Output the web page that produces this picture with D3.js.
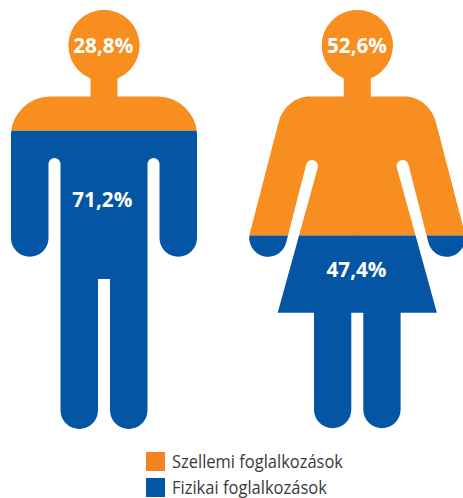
<!DOCTYPE html>
<html><head><meta charset="utf-8">
<script src="https://cdn.jsdelivr.net/npm/d3@7"></script>
<style>html,body{margin:0;padding:0;background:#fff}svg{display:block}</style>
</head><body><div id="c"></div>
<script>
const figures = ["man", "woman"];
const whiteCollar = [28.8, 52.6];
const manualLabour = [71.2, 47.4];
const fillLevels = [71.2, 46.2]; // blue height
const valueLabels = ["28,8%", "52,6%", "71,2%", "47,4%"];
const legendLabels = ["Szellemi foglalkozások", "Fizikai foglalkozások"];
const colours = ["#F78E1F", "#0455A4"];
const legendColours = ["#F58220", "#0455A4"];

const W = 463, H = 498;
const svg = d3.select("#c").append("svg").attr("width", W).attr("height", H);
const y = d3.scaleLinear().domain([0, 100]).range([429, 10]);
const PI = Math.PI;

function head(p, c) {
  p.moveTo(c + 35.5, 45.5);
  p.arc(c, 45.5, 35.5, 0, 2 * PI, true);
  p.closePath();
  p.moveTo(c - 13.5, 70);
  p.lineTo(c - 13.5, 100); p.lineTo(c + 0.6, 100); p.lineTo(c + 0.6, 70);
  p.closePath();
}
function manHalf(c) {
  const p = d3.path();
  head(p, c);
  p.moveTo(c + 0.6, 96.5);
  p.lineTo(50, 96.5);
  p.arc(50, 135.5, 39, -PI / 2, -PI, true);
  p.lineTo(11, 238);
  p.arc(29.75, 238, 18.75, PI, 0, true);
  p.lineTo(48.5, 164);
  p.arc(54.5, 164, 6, PI, 2 * PI, false);
  p.lineTo(60.5, 410.25);
  p.arc(79.25, 410.25, 18.75, PI, 0, true);
  p.lineTo(98, 279);
  p.lineTo(c + 0.6, 279);
  p.closePath();
  return p.toString();
}
function womanHalf(c) {
  const p = d3.path();
  head(p, c);
  const a = Math.atan2(0.25, 0.968);
  p.moveTo(c + 0.6, 96.5);
  p.lineTo(310, 96.5);
  p.bezierCurveTo(295, 96.5, 283, 107, 278.7, 122);
  p.lineTo(249.85, 233.3);
  p.arc(268, 238, 18.75, PI + a, a, true);
  p.lineTo(306.2, 164.5);
  p.arc(312, 166, 6, PI + a, 2 * PI + a, false);
  p.lineTo(277.7, 312.7);
  p.lineTo(314, 312.7);
  p.lineTo(314, 409.6);
  p.arc(332.65, 409.6, 18.65, PI, 0, true);
  p.lineTo(351.3, 312.7);
  p.lineTo(c + 0.6, 312.7);
  p.closePath();
  return p.toString();
}

const shapes = [
  { name: figures[0], c: 104, d: manHalf(104) },
  { name: figures[1], c: 357.3, d: womanHalf(357.3) }
];

const defs = svg.append("defs");
shapes.forEach((s, i) => {
  const split = y(fillLevels[i]);
  defs.append("clipPath").attr("id", "top" + i).append("rect")
    .attr("x", 0).attr("y", 0).attr("width", W).attr("height", split);
  defs.append("clipPath").attr("id", "bot" + i).append("rect")
    .attr("x", 0).attr("y", split).attr("width", W).attr("height", H - split);
  [["top", colours[0]], ["bot", colours[1]]].forEach(([k, col]) => {
    const g = svg.append("g").attr("class", s.name).attr("clip-path", `url(#${k}${i})`).attr("fill", col);
    g.append("path").attr("d", s.d);
    g.append("path").attr("d", s.d).attr("transform", `translate(${2 * s.c},0) scale(-1,1)`);
  });
});

const labelPos = [[103.3, 53], [357, 53], [102.3, 206.5], [356.5, 276.5]];
svg.selectAll("text.v").data(valueLabels).join("text").attr("class", "v")
  .attr("x", (d, i) => labelPos[i][0]).attr("y", (d, i) => labelPos[i][1])
  .attr("text-anchor", "middle").attr("fill", "#fff")
  .attr("font-family", "'Open Sans', sans-serif").attr("font-weight", 700).attr("font-size", 22)
  .attr("textLength", 60).attr("lengthAdjust", "spacingAndGlyphs")
  .text(d => d);

const legendY = [452, 478], legendBase = [468, 493.5], legendW = [171, 155];
legendLabels.forEach((t, i) => {
  svg.append("rect").attr("x", 146).attr("y", legendY[i]).attr("width", 19).attr("height", 19).attr("fill", legendColours[i]);
  svg.append("text").attr("x", 172).attr("y", legendBase[i])
    .attr("font-family", "'Open Sans', sans-serif").attr("font-size", 18.5).attr("fill", "#3a3a3c")
    .attr("textLength", legendW[i]).attr("lengthAdjust", "spacingAndGlyphs").text(t);
});
</script></body></html>
